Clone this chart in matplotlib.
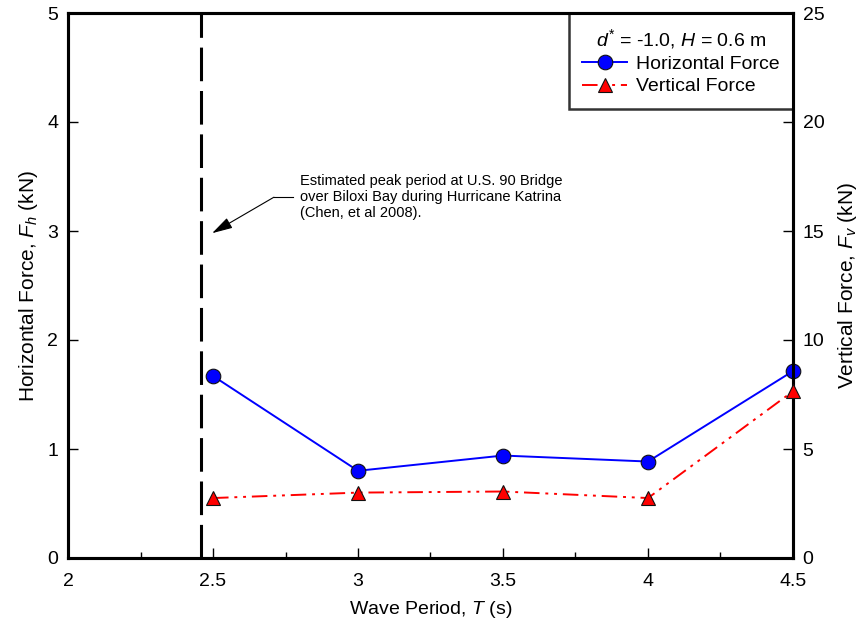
import numpy as np
import matplotlib
matplotlib.use("Agg")
import matplotlib.pyplot as plt
from matplotlib.ticker import MultipleLocator

plt.rcParams['font.family'] = ['Liberation Sans', 'DejaVu Sans']
plt.rcParams['mathtext.fontset'] = 'custom'
plt.rcParams['mathtext.it'] = 'Liberation Sans:italic'
plt.rcParams['mathtext.rm'] = 'Liberation Sans'

# data
period = [2.5, 3.0, 3.5, 4.0, 4.5]
force_h = [1.67, 0.80, 0.94, 0.885, 1.715]   # kN, left axis
force_v = [2.75, 3.0, 3.05, 2.75, 7.65]      # kN, right axis
peak_period = 2.46

fig = plt.figure(figsize=(8.62, 6.21), dpi=100)
ax = fig.add_axes([68 / 862, 1 - 558 / 621, (793 - 68) / 862, (558 - 13) / 621])
ax2 = ax.twinx()

ax.set_xlim(2, 4.5)
ax.set_ylim(0, 5)
ax2.set_ylim(0, 25)

# vertical dashed line for the estimated peak period
ax.axvline(peak_period, color='black', lw=2.2, dashes=(11, 3.2), zorder=1)

h_line, = ax.plot(period, force_h, color='blue', lw=1.4, marker='o', ms=10.5,
                  mfc='blue', mec='#111111', mew=0.8, label='Horizontal Force',
                  zorder=4, clip_on=False)
v_line, = ax2.plot(period, force_v, color='red', lw=1.4, marker='^', ms=10.5,
                   mfc='red', mec='#111111', mew=0.8, label='Vertical Force',
                   dashes=(8, 3, 1.5, 3, 1.5, 3), zorder=3, clip_on=False)

# annotation with the leader line
ax.plot([2.776, 2.71], [3.31, 3.31], color='black', lw=0.8)
ax.annotate('', xy=(2.497, 2.98), xytext=(2.71, 3.31),
            arrowprops=dict(arrowstyle='-|>,head_length=0.9,head_width=0.25',
                            color='black', lw=0.8,
                            mutation_scale=14, shrinkA=0, shrinkB=0))
ax.text(2.80, 3.31,
        'Estimated peak period at U.S. 90 Bridge\n'
        'over Biloxi Bay during Hurricane Katrina\n'
        '(Chen, et al 2008).',
        fontsize=10.5, ha='left', va='center', linespacing=1.17)

ax.set_xlabel('Wave Period, $T$ (s)', fontsize=14, labelpad=6)
ax.set_ylabel('Horizontal Force, $F_h$ (kN)', fontsize=15, labelpad=5)
ax2.set_ylabel('Vertical Force, $F_v$ (kN)', fontsize=15, labelpad=8)

ax.xaxis.set_major_locator(MultipleLocator(0.5))
ax.xaxis.set_minor_locator(MultipleLocator(0.25))
ax.yaxis.set_major_locator(MultipleLocator(1))
ax2.yaxis.set_major_locator(MultipleLocator(5))
ax.xaxis.set_major_formatter(plt.FuncFormatter(lambda v, p: f'{v:g}'))

ax.tick_params(axis='x', which='major', direction='in', length=7, width=1,
               labelsize=14, pad=11, top=False)
ax.tick_params(axis='x', which='minor', direction='in', length=4, width=1, top=False)
ax.tick_params(axis='y', direction='in', length=7, width=1, labelsize=14, pad=7, right=False)
ax2.tick_params(axis='y', direction='in', length=7, width=1, labelsize=14, pad=7)

for a in (ax, ax2):
    for s in a.spines.values():
        s.set_linewidth(2.2)

leg = ax.legend([h_line, v_line], ['Horizontal Force', 'Vertical Force'],
                title='$d^{*}$ = -1.0, $H$ = 0.6 m', loc='upper right',
                fontsize=14, title_fontsize=14, frameon=True, fancybox=False,
                edgecolor='black', borderaxespad=0, handlelength=2.3,
                handletextpad=0.45, labelspacing=0.25, borderpad=0.7)
leg.get_frame().set_linewidth(1.8)
leg.set_zorder(10)

fig.savefig('out.png', dpi=100)
